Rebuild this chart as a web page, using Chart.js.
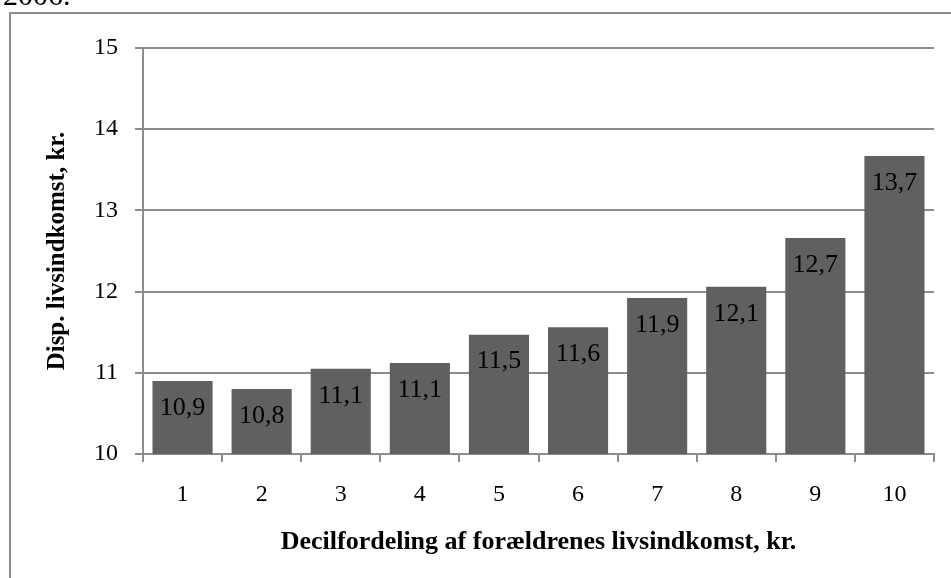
<!DOCTYPE html>
<html lang="da">
<head>
    <meta charset="UTF-8">
    <title>Disp. livsindkomst</title>
    <script src="https://cdn.jsdelivr.net/npm/chart.js"></script>
    <style>
        html, body { margin: 0; padding: 0; background: #fff; }
        #wrap { width: 951px; height: 578px; }
    </style>
</head>
<body>
    <div id="wrap"><canvas id="chart"></canvas></div>

    <script>
        // deciles of the parents' lifetime income
        const deciles = ['1', '2', '3', '4', '5', '6', '7', '8', '9', '10'];
        // bar heights
        const incomeValues = [10.90, 10.80, 11.05, 11.12, 11.47, 11.56, 11.92, 12.06, 12.66, 13.67];
        // printed labels inside the bars
        const barLabels = ['10,9', '10,8', '11,1', '11,1', '11,5', '11,6', '11,9', '12,1', '12,7', '13,7'];
        const yMin = 10;
        const yMax = 15;

        const serif = "'Liberation Serif', 'Times New Roman', serif";
        const gray = '#8c8c8c';

        // frame around the figure + the cut off caption on top
        const framePlugin = {
            id: 'frame',
            beforeDraw(chart) {
                const ctx = chart.ctx;
                ctx.save();
                ctx.strokeStyle = gray;
                ctx.lineWidth = 2;
                ctx.beginPath();
                ctx.moveTo(10, 600);
                ctx.lineTo(10, 13);
                ctx.lineTo(960, 13);
                ctx.stroke();
                ctx.fillStyle = '#000';
                ctx.font = '30px ' + serif;
                ctx.textBaseline = 'alphabetic';
                ctx.fillText('2006.', 3, 5);
                ctx.restore();
            }
        };

        // value labels inside the top of each bar
        const barLabelPlugin = {
            id: 'barLabels',
            afterDatasetsDraw(chart) {
                const ctx = chart.ctx;
                const meta = chart.getDatasetMeta(0);
                ctx.save();
                ctx.fillStyle = '#000';
                ctx.font = '26px ' + serif;
                ctx.textAlign = 'center';
                ctx.textBaseline = 'middle';
                meta.data.forEach((bar, i) => {
                    ctx.fillText(barLabels[i], bar.x, bar.y + 27);
                });
                ctx.restore();
            }
        };

        new Chart(document.getElementById('chart'), {
            type: 'bar',
            data: {
                labels: deciles,
                datasets: [{
                    data: incomeValues,
                    backgroundColor: '#606060',
                    borderWidth: 0,
                    categoryPercentage: 1,
                    barPercentage: 0.76
                }]
            },
            options: {
                responsive: true,
                maintainAspectRatio: false,
                animation: false,
                layout: { padding: { top: 48, right: 17, left: 0, bottom: 0 } },
                plugins: {
                    legend: { display: false },
                    tooltip: { enabled: false }
                },
                scales: {
                    x: {
                        grid: {
                            offset: true,
                            drawOnChartArea: false,
                            drawTicks: true,
                            tickLength: 8,
                            color: gray,
                            lineWidth: 2
                        },
                        border: { color: gray, width: 2 },
                        ticks: {
                            color: '#000',
                            padding: 18,
                            font: { family: serif, size: 24 }
                        },
                        title: {
                            display: true,
                            text: 'Decilfordeling af forældrenes livsindkomst, kr.',
                            color: '#000',
                            font: { family: serif, size: 26, weight: 'bold' },
                            padding: { top: 0, bottom: 20 }
                        },
                        afterFit(scale) { scale.height = 124; }
                    },
                    y: {
                        min: yMin,
                        max: yMax,
                        grid: {
                            color: gray,
                            lineWidth: 2,
                            tickLength: 8
                        },
                        border: { color: gray, width: 2 },
                        ticks: {
                            stepSize: 1,
                            color: '#000',
                            padding: 17,
                            font: { family: serif, size: 24 }
                        },
                        title: {
                            display: true,
                            text: 'Disp. livsindkomst, kr.',
                            color: '#000',
                            font: { family: serif, size: 25, weight: 'bold' },
                            padding: { top: 43, bottom: 0 }
                        },
                        afterFit(scale) { scale.width = 143; }
                    }
                }
            },
            plugins: [framePlugin, barLabelPlugin]
        });
    </script>
</body>
</html>
